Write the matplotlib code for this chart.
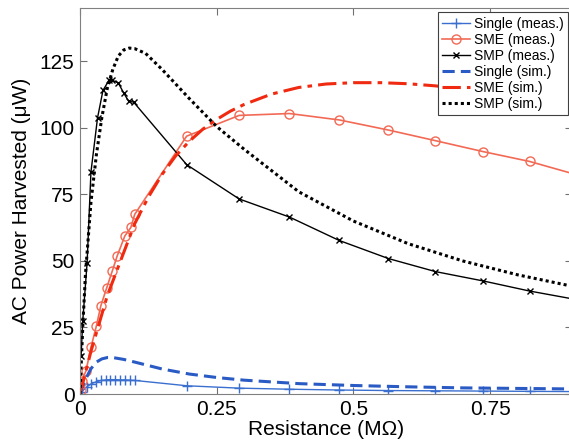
import matplotlib
matplotlib.use("Agg")
import matplotlib.pyplot as plt

plt.rcParams['font.family'] = ['Liberation Sans', 'DejaVu Sans']

# measured points (resistance in MOhm, power in uW)
single_meas_x = [0.003, 0.012, 0.021, 0.030, 0.039, 0.048, 0.054, 0.064, 0.073, 0.082, 0.091, 0.100,
                 0.195, 0.291, 0.383, 0.474, 0.564, 0.650, 0.737, 0.822, 0.910]
single_meas_y = [0.8, 2.6, 3.9, 4.6, 5.1, 5.3, 5.4, 5.4, 5.3, 5.3, 5.2, 5.1,
                 3.1, 2.2, 1.8, 1.5, 1.3, 1.2, 1.1, 1.0, 0.9]

sme_meas_x = [0.001, 0.003, 0.011, 0.020, 0.030, 0.038, 0.049, 0.059, 0.068, 0.082, 0.093, 0.100,
              0.195, 0.291, 0.383, 0.474, 0.564, 0.650, 0.737, 0.822, 0.910]
sme_meas_y = [1.5, 5.0, 8.7, 17.5, 25.6, 33.1, 40.0, 46.2, 51.9, 59.4, 62.6, 67.5,
              96.9, 104.7, 105.4, 103.0, 99.2, 95.2, 91.1, 87.4, 82.3]

smp_meas_x = [0.002, 0.005, 0.013, 0.020, 0.032, 0.042, 0.053, 0.059, 0.070, 0.080, 0.089, 0.098,
              0.195, 0.291, 0.383, 0.474, 0.564, 0.650, 0.737, 0.822, 0.910]
smp_meas_y = [14.3, 27.4, 49.4, 83.4, 103.7, 114.1, 117.9, 117.9, 116.9, 113.1, 110.0, 109.7,
              86.2, 73.3, 66.5, 57.7, 50.9, 46.0, 42.5, 38.7, 35.4]

# simulated curves
single_sim_x = [0, 0.005, 0.01, 0.02, 0.03, 0.04, 0.05, 0.06, 0.08, 0.1, 0.15, 0.2, 0.25, 0.3,
                0.4, 0.5, 0.6, 0.7, 0.8, 0.9]
single_sim_y = [0, 3.0, 5.5, 9.5, 12.0, 13.2, 13.7, 13.7, 13.0, 12.0, 9.4, 7.5, 6.2, 5.2,
                3.9, 3.2, 2.7, 2.3, 2.1, 1.9]

sme_sim_x = [0, 0.01, 0.02, 0.05, 0.1, 0.125, 0.15, 0.175, 0.2, 0.225, 0.25, 0.275, 0.3, 0.35,
             0.4, 0.45, 0.5, 0.55, 0.6, 0.65, 0.7, 0.8, 0.9]
sme_sim_y = [0, 8, 16, 37, 64, 74, 82.5, 89.5, 95, 99.6, 103.2, 106.3, 108.8, 112.7,
             115.2, 116.5, 117.0, 117.0, 116.6, 115.8, 114.6, 111.2, 106.5]

smp_sim_x = [0, 0.005, 0.01, 0.02, 0.03, 0.04, 0.05, 0.06, 0.07, 0.08, 0.09, 0.1, 0.12, 0.15,
             0.2, 0.25, 0.3, 0.4, 0.5, 0.6, 0.7, 0.8, 0.9]
smp_sim_y = [0, 25, 45, 72, 90, 104, 115, 122, 127, 129.3, 130, 129.8, 128, 122,
             111, 100.5, 92, 76, 65, 56.5, 50, 44.8, 40.5]

fig = plt.figure(figsize=(5.69, 4.44), dpi=100)
ax = fig.add_axes([0.1406, 0.1126, 0.865, 0.869])

ax.plot(single_meas_x, single_meas_y, '-', color='#3a6fd0', lw=1.0, marker='+', ms=7, mew=1.0,
        label='Single (meas.)')
ax.plot(sme_meas_x, sme_meas_y, '-', color='#f26a55', lw=1.2, marker='o', ms=6.5, mfc='none',
        mew=1.0, label='SME (meas.)')
ax.plot(smp_meas_x, smp_meas_y, '-', color='black', lw=1.0, marker='x', ms=5, mew=1.0,
        label='SMP (meas.)')
ax.plot(single_sim_x, single_sim_y, '--', color='#2a5bc4', lw=2.2, dashes=(4, 2),
        label='Single (sim.)')
ax.plot(sme_sim_x, sme_sim_y, '-.', color='#f02a10', lw=2.2, dashes=(6, 2, 1.5, 2),
        label='SME (sim.)')
ax.plot(smp_sim_x, smp_sim_y, ':', color='black', lw=2.2, dashes=(1, 1),
        label='SMP (sim.)')

ax.set_xlim(0, 0.9)
ax.set_ylim(0, 145)
ax.set_xticks([0, 0.25, 0.5, 0.75])
ax.set_xticklabels(['0', '0.25', '0.5', '0.75'])
ax.set_yticks([0, 25, 50, 75, 100, 125])
ax.tick_params(direction='in', top=True, right=True, length=5, color='#707070',
               labelsize=15, pad=4)
for s in ax.spines.values():
    s.set_color('#808080')

ax.set_xlabel('Resistance (M\u03a9)', fontsize=15, labelpad=1)
ax.set_ylabel('AC Power Harvested (\u03bcW)', fontsize=15, labelpad=6)

leg = ax.legend(loc='upper right', fontsize=10, labelspacing=0.15, handlelength=2.0,
                handletextpad=0.3, borderpad=0.3, borderaxespad=0.3, fancybox=False,
                framealpha=1)
leg.get_frame().set_edgecolor('#404040')
leg.get_frame().set_linewidth(0.8)

fig.savefig('out.png', dpi=100)
